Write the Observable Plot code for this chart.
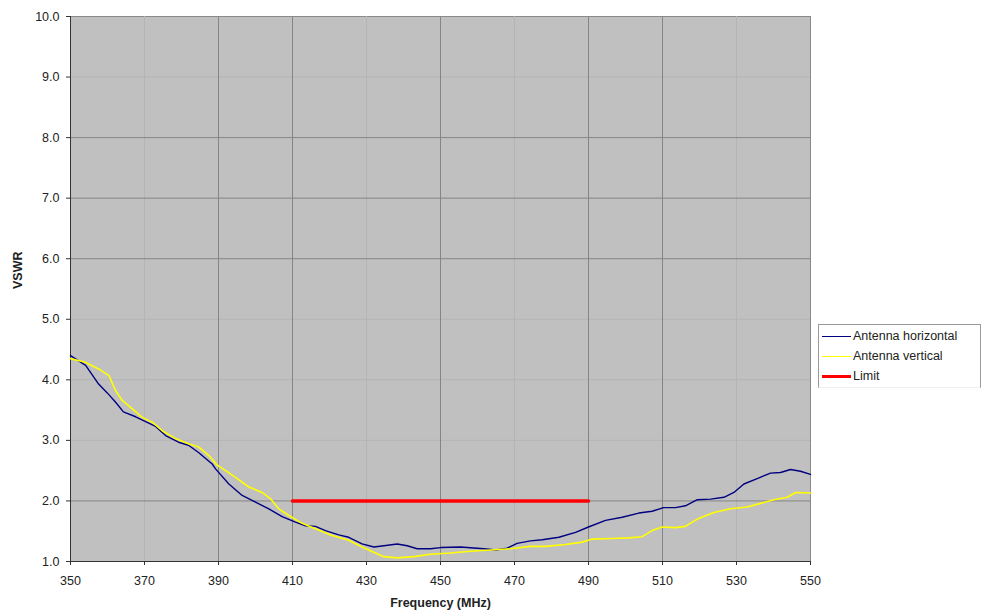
<!DOCTYPE html>
<html>
<head>
<meta charset="utf-8">
<script src="https://cdn.jsdelivr.net/npm/d3@7"></script>
<script src="https://cdn.jsdelivr.net/npm/@observablehq/plot@0.6"></script>
<style>
  body { margin: 0; background: #fff; font-family: "Liberation Sans", Arial, sans-serif; }
  #wrap { position: relative; width: 985px; height: 613px; }
  #legend { position: absolute; left: 818px; top: 324px; width: 163px; height: 64px; background: #fff;
    border: 1px solid #999; border-bottom-color: #eee; font-size: 12.5px; color: #222; box-sizing: border-box; }
  .row { display: flex; align-items: center; height: 20px; padding-left: 3px; }
  .sw { width: 29px; margin-right: 2px; }
</style>
</head>
<body>
<div id="wrap"></div>
<script>
// Frequency (MHz), VSWR
const freqTicks = [350, 370, 390, 410, 430, 450, 470, 490, 510, 530, 550];
const vswrTicks = [1, 2, 3, 4, 5, 6, 7, 8, 9, 10];
const gridXStrong = [390, 410, 450, 490, 510];
const gridXFaint = [370, 430, 470, 530];
const gridYStrong = [2, 6, 7, 8];
const gridYFaint = [3, 4, 5, 9];

const horizontal = [
  [350, 4.40], [354.1, 4.24], [357.6, 3.93], [360, 3.78], [362.2, 3.63], [364.3, 3.47], [367.6, 3.39],
  [370.3, 3.31], [373.0, 3.23], [375.7, 3.08], [379.2, 2.97], [381.9, 2.92], [384.6, 2.80],
  [388.3, 2.61], [389.2, 2.53], [392.8, 2.28], [396.4, 2.09], [400, 1.98], [403.6, 1.87],
  [407.2, 1.74], [410.8, 1.65], [413.5, 1.59], [416.2, 1.58], [418.9, 1.51], [422.5, 1.44],
  [425.2, 1.40], [428.8, 1.29], [432.0, 1.24], [434.7, 1.26], [438.3, 1.29], [441, 1.26],
  [443.7, 1.21], [447.3, 1.21], [450, 1.23], [455.4, 1.24], [461.7, 1.21], [465, 1.19],
  [468, 1.22], [470.7, 1.30], [474.3, 1.34], [477.5, 1.36], [482, 1.40], [486.5, 1.48],
  [490, 1.57], [494.6, 1.68], [499.1, 1.73], [503.6, 1.80], [507.2, 1.83], [510.3, 1.89],
  [513.5, 1.89], [516.2, 1.92], [519.4, 2.02], [523, 2.03], [526.6, 2.06], [529.3, 2.14],
  [532, 2.28], [535.6, 2.37], [539.2, 2.46], [541.9, 2.47], [544.6, 2.52], [547.3, 2.49], [550, 2.44]
];

const vertical = [
  [350, 4.35], [354, 4.29], [357.6, 4.18], [360.4, 4.07], [362.2, 3.82], [364, 3.66], [366.7, 3.52],
  [369.4, 3.38], [372.1, 3.30], [374.8, 3.16], [378.4, 3.03], [382, 2.94], [384.7, 2.89],
  [387.4, 2.75], [389.5, 2.60], [391.9, 2.50], [394.6, 2.39], [398.2, 2.23], [401.8, 2.14],
  [404, 2.04], [406.3, 1.87], [409, 1.76], [412.6, 1.63], [416.2, 1.54], [420.7, 1.43],
  [425.2, 1.35], [428.8, 1.24], [432.4, 1.14], [434.7, 1.08], [438.3, 1.06], [442.8, 1.08],
  [447.3, 1.12], [452.7, 1.14], [458.1, 1.17], [463.5, 1.19], [468.9, 1.21], [474.3, 1.25],
  [478.4, 1.25], [483.8, 1.28], [488.3, 1.32], [491, 1.37], [496.4, 1.38], [500.9, 1.39],
  [504.5, 1.41], [507.2, 1.51], [509.9, 1.57], [513.5, 1.56], [516.2, 1.58], [519.4, 1.70],
  [523.9, 1.81], [528.4, 1.87], [532.9, 1.90], [536.5, 1.96], [540.1, 2.02], [543.7, 2.06],
  [546, 2.14], [550, 2.13]
];

const limit = [[410, 2.0], [490, 2.0]];

const series = [
  {name: "Antenna horizontal", color: "#000080", width: 1.4, data: horizontal},
  {name: "Antenna vertical", color: "#ffff00", width: 1.6, data: vertical},
  {name: "Limit", color: "#ff0000", width: 3.5, data: limit}
];

const chart = Plot.plot({
  width: 985,
  height: 613,
  marginLeft: 70,
  marginRight: 175,
  marginTop: 16,
  marginBottom: 52,
  style: {fontFamily: "Liberation Sans, Arial, sans-serif", fontSize: "12px", color: "#222", background: "#fff"},
  x: {domain: [350, 550], label: null},
  y: {domain: [1, 10], label: null},
  marks: [
    Plot.frame({fill: "#c0c0c0", stroke: "#8a8a8a"}),
    Plot.ruleX(gridXFaint, {stroke: "#b4b4b4", strokeWidth: 1}),
    Plot.ruleY(gridYFaint, {stroke: "#b4b4b4", strokeWidth: 1}),
    Plot.ruleX(gridXStrong, {stroke: "#858585", strokeWidth: 1}),
    Plot.ruleY(gridYStrong, {stroke: "#858585", strokeWidth: 1}),
    Plot.ruleX([350], {stroke: "#333"}),
    Plot.ruleY([1], {stroke: "#333"}),
    Plot.axisX({ticks: freqTicks, tickSize: 4, tickPadding: 11, stroke: "#333", fontSize: 12.5}),
    Plot.axisY({ticks: vswrTicks, tickFormat: d3.format(".1f"), tickSize: 4, tickPadding: 7, stroke: "#333", fontSize: 12.5}),
    ...series.map(s => Plot.line(s.data, {x: d => d[0], y: d => d[1], stroke: s.color, strokeWidth: s.width})),
    Plot.text(["Frequency (MHz)"], {frameAnchor: "bottom", dy: 45, fontWeight: "bold", fontSize: 12.5}),
    Plot.text(["VSWR"], {frameAnchor: "left", dx: -53, rotate: -90, fontWeight: "bold", fontSize: 12.5})
  ]
});

const wrap = document.getElementById("wrap");
wrap.appendChild(chart);

const legend = document.createElement("div");
legend.id = "legend";
legend.style.paddingTop = "1px";
for (const s of series) {
  const row = document.createElement("div");
  row.className = "row";
  const sw = document.createElement("div");
  sw.className = "sw";
  sw.style.borderTop = `${s.name === "Limit" ? 3 : 1.5}px solid ${s.color}`;
  const label = document.createElement("span");
  label.textContent = s.name;
  row.appendChild(sw);
  row.appendChild(label);
  legend.appendChild(row);
}
wrap.appendChild(legend);
</script>
</body>
</html>
